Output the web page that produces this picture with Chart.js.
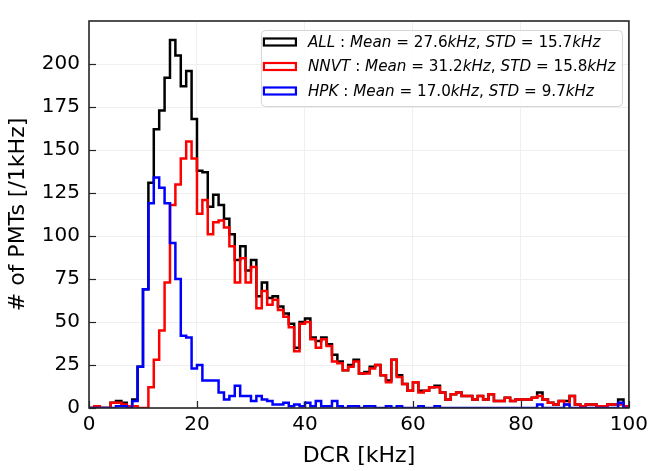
<!DOCTYPE html>
<html>
<head>
<meta charset="utf-8">
<script src="https://cdn.jsdelivr.net/npm/chart.js@4.4.1/dist/chart.umd.min.js"></script>
<style>
  html, body { margin: 0; padding: 0; background: #fff; }
  #wrap { width: 653px; height: 471px; }
</style>
</head>
<body>
<div id="wrap"><canvas id="dcrChart" width="653" height="471"></canvas></div>
<script>
// DCR histogram, 1 kHz bins from 0 to 100 kHz (value = counts in bin [i, i+1))
const allCounts = [
  0, 1, 0, 0, 3, 4, 3, 1, 5, 24,
  69, 131, 162, 173, 192, 214, 205, 187, 196, 168,
  138, 137, 117, 124, 118, 110, 101, 86, 94, 80,
  86, 65, 73, 64, 65, 59, 55, 49, 35, 50,
  52, 41, 39, 41, 37, 31, 27, 22, 25, 28,
  20, 21, 24, 25, 19, 16, 28, 19, 14, 10,
  15, 10, 10, 12, 13, 9, 5, 8, 9, 7,
  7, 5, 7, 5, 8, 4, 4, 6, 4, 5,
  5, 5, 6, 9, 5, 3, 2, 4, 4, 7,
  2, 1, 2, 2, 1, 1, 2, 2, 5, 1
];
const nnvtCounts = [
  0, 1, 0, 0, 3, 3, 2, 1, 1, 0,
  0, 12, 28, 45, 73, 118, 130, 145, 155, 145,
  113, 121, 101, 108, 109, 105, 94, 73, 87, 73,
  82, 58, 68, 60, 63, 57, 53, 47, 33, 49,
  50, 40, 35, 40, 36, 27, 26, 22, 24, 27,
  20, 20, 23, 25, 19, 15, 28, 18, 14, 10,
  15, 9, 10, 12, 12, 9, 5, 8, 9, 7,
  7, 5, 7, 5, 8, 4, 4, 6, 4, 5,
  5, 5, 6, 7, 5, 3, 2, 4, 2, 7,
  2, 1, 2, 2, 1, 1, 2, 2, 2, 1
];
const hpkCounts = [
  0, 0, 0, 0, 0, 1, 1, 0, 4, 24,
  69, 119, 134, 128, 119, 96, 75, 42, 41, 23,
  25, 16, 16, 16, 9, 5, 7, 13, 7, 7,
  4, 7, 5, 4, 2, 2, 3, 1, 2, 1,
  3, 1, 4, 1, 1, 4, 1, 0, 1, 1,
  0, 1, 1, 0, 0, 1, 0, 1, 0, 0,
  0, 1, 0, 0, 1, 0, 0, 0, 0, 0,
  0, 0, 0, 0, 0, 0, 0, 0, 0, 0,
  0, 0, 0, 2, 0, 0, 0, 0, 2, 0,
  0, 0, 0, 0, 0, 0, 0, 0, 3, 0
];
const seriesLabels = [
  'ALL : Mean = 27.6kHz, STD = 15.7kHz',
  'NNVT : Mean = 31.2kHz, STD = 15.8kHz',
  'HPK : Mean = 17.0kHz, STD = 9.7kHz'
];
const xTicks = [0, 20, 40, 60, 80, 100];
const yTicks = [0, 25, 50, 75, 100, 125, 150, 175, 200];

const FONT = "'DejaVu Sans', 'Liberation Sans', sans-serif";
const frameColor = '#262626';

// turn bin counts into step outline points (left edges + closing edge)
function toSteps(counts) {
  const pts = [{x: 0, y: 0}];
  counts.forEach((v, i) => pts.push({x: i, y: v}));
  pts.push({x: counts.length, y: 0});
  return pts;
}

// frame + inward ticks, like the matplotlib style
const framePlugin = {
  id: 'frame',
  afterDatasetsDraw(chart) {
    const {ctx, chartArea: a, scales} = chart;
    ctx.save();
    ctx.strokeStyle = frameColor;
    ctx.lineWidth = 1.2;
    xTicks.forEach(v => {
      const px = Math.round(scales.x.getPixelForValue(v)) + 0.5;
      ctx.beginPath(); ctx.moveTo(px, a.bottom); ctx.lineTo(px, a.bottom - 7); ctx.stroke();
    });
    yTicks.forEach(v => {
      const py = Math.round(scales.y.getPixelForValue(v)) + 0.5;
      ctx.beginPath(); ctx.moveTo(a.left, py); ctx.lineTo(a.left + 7, py); ctx.stroke();
    });
    ctx.lineWidth = 1.6;
    ctx.strokeRect(a.left, a.top, a.right - a.left, a.bottom - a.top);
    ctx.restore();
  }
};

// legend box in the top right corner, mathtext-ish (letters italic)
const legendPlugin = {
  id: 'boxLegend',
  afterDraw(chart) {
    const {ctx, chartArea: a} = chart;
    const boxW = 361, boxH = 76;
    const bx = a.right - 7 - boxW, by = a.top + 9;
    ctx.save();
    ctx.fillStyle = 'rgba(255,255,255,0.85)';
    ctx.strokeStyle = '#d4d4d4';
    ctx.lineWidth = 1;
    ctx.beginPath();
    ctx.roundRect(bx + 0.5, by + 0.5, boxW, boxH, 4);
    ctx.fill(); ctx.stroke();

    chart.data.datasets.forEach((ds, i) => {
      const cy = by + 12 + i * 24.5;
      ctx.strokeStyle = ds.borderColor;
      ctx.lineWidth = 2.2;
      ctx.strokeRect(bx + 3, cy - 3.5, 32, 7);
      let tx = bx + 47;
      ctx.fillStyle = '#000';
      ctx.textBaseline = 'middle';
      const parts = ds.label.match(/[A-Za-z]+|[^A-Za-z]+/g);
      parts.forEach(p => {
        const ital = /[A-Za-z]/.test(p);
        ctx.font = (ital ? 'italic ' : '') + '15.2px ' + FONT;
        ctx.fillText(p, tx, cy + 1);
        tx += ctx.measureText(p).width;
      });
    });
    ctx.restore();
  }
};

const ctx = document.getElementById('dcrChart').getContext('2d');
new Chart(ctx, {
  type: 'line',
  data: {
    datasets: [
      {label: seriesLabels[0], data: toSteps(allCounts), borderColor: '#000000', order: 2},
      {label: seriesLabels[1], data: toSteps(nnvtCounts), borderColor: '#ff0000', order: 1},
      {label: seriesLabels[2], data: toSteps(hpkCounts), borderColor: '#0000ff', order: 0}
    ]
  },
  options: {
    responsive: false,
    animation: false,
    devicePixelRatio: 1,
    layout: {padding: {top: 2, right: 23, left: 0, bottom: 0}},
    elements: {
      line: {stepped: 'before', borderWidth: 2.5, fill: false, tension: 0},
      point: {radius: 0, hoverRadius: 0}
    },
    scales: {
      x: {
        type: 'linear', min: 0, max: 100,
        afterFit: s => { s.height = 63; },
        afterBuildTicks: s => { s.ticks = xTicks.map(v => ({value: v})); },
        ticks: {color: '#000', padding: 5, font: {family: FONT, size: 20}, maxRotation: 0},
        grid: {color: '#efefef', lineWidth: 1, drawTicks: false},
        border: {display: false},
        title: {display: true, text: 'DCR [kHz]', color: '#000',
                font: {family: FONT, size: 22}, padding: {top: 0, bottom: 2}}
      },
      y: {
        type: 'linear', min: 0, max: 225,
        afterFit: s => { s.width = 89; },
        afterBuildTicks: s => { s.ticks = yTicks.map(v => ({value: v})); },
        ticks: {color: '#000', padding: 9, font: {family: FONT, size: 20}},
        grid: {color: '#efefef', lineWidth: 1, drawTicks: false},
        border: {display: false},
        title: {display: true, text: '# of PMTs [/1kHz]', color: '#000',
                font: {family: FONT, size: 22}, padding: {top: 5, bottom: 0}}
      }
    },
    plugins: {
      legend: {display: false},
      tooltip: {enabled: false}
    }
  },
  plugins: [framePlugin, legendPlugin]
});
</script>
</body>
</html>
